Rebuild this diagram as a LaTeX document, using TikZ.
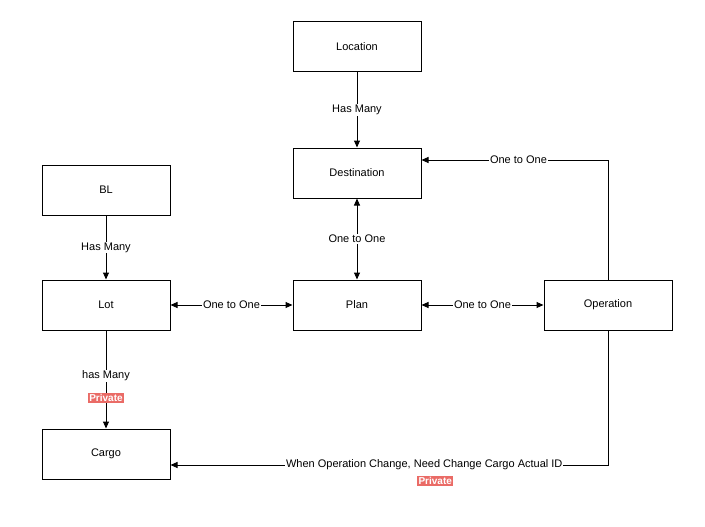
\documentclass[tikz,border=0pt]{standalone}
\usepackage{fontspec}
\setmainfont{Liberation Sans}
\usetikzlibrary{arrows.meta,positioning}

\tikzset{
    entity/.style={draw=black, line width=1pt, minimum width=128pt, minimum height=50pt,
        inner sep=0pt, font=\fontsize{11}{13}\selectfont},
    rel/.style={line width=1pt, -{Triangle[length=7pt,width=6pt]}},
    birel/.style={line width=1pt, {Triangle[length=7pt,width=6pt]}-{Triangle[length=7pt,width=6pt]}},
    lbl/.style={fill=white, inner sep=1pt, font=\fontsize{11}{13}\selectfont},
    private/.style={fill=privred, text=white, inner xsep=1.5pt, inner ysep=1.5pt,
        font=\bfseries\fontsize{10}{12}\selectfont}
}
\definecolor{privred}{HTML}{EA6B66}

\begin{document}
\begin{tikzpicture}[x=1pt, y=-1pt]
    \useasboundingbox (0,0) rectangle (705,527);

    % entities
    \node[entity] (location) at (357,47) {Location};
    \node[entity] (destination) at (357,173) {Destination};
    \node[entity] (bl) at (106,190) {BL};
    \node[entity] (lot) at (106,305) {Lot};
    \node[entity] (plan) at (357,305) {Plan};
    \node[entity] (operation) at (608,305) {Operation};
    \node[entity] (cargo) at (106,454) {Cargo};

    % has many
    \draw[rel] (location) -- node[lbl] {Has Many} (destination);
    \draw[rel] (bl) -- node[lbl] {Has Many} (lot);
    \draw[rel] (lot) -- node[lbl, pos=0.465] {has Many}
        node[private, pos=0.687] {Private} (cargo);

    % one to one
    \draw[birel] (destination) -- node[lbl] {One to One} (plan);
    \draw[birel] (lot) -- node[lbl] {One to One} (plan);
    \draw[birel] (plan) -- node[lbl] {One to One} (operation);
    \draw[rel] (operation.north) |- node[lbl, pos=0.74] {One to One}
        ([yshift=13pt]destination.east);

    % operation change
    \draw[rel] (operation.south) |- node[lbl, pos=0.71] (opcargo)
        {When Operation Change, Need Change Cargo Actual ID}
        ([yshift=-11pt]cargo.east);
    \node[private] (opprivate) at ([xshift=11pt, yshift=-16pt]opcargo.center) {Private};
\end{tikzpicture}
\end{document}
